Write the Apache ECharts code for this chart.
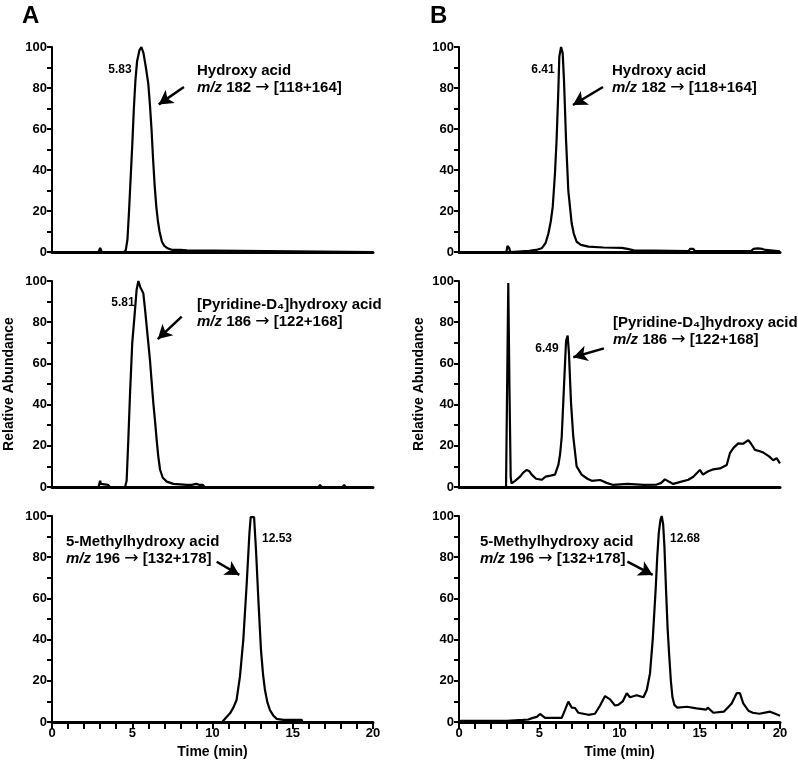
<!DOCTYPE html>
<html>
<head>
<meta charset="utf-8">
<script src="https://cdn.jsdelivr.net/npm/echarts@6/dist/echarts.min.js"></script>
<style>html,body{margin:0;padding:0;background:#fff;}#c{width:798px;height:773px;}</style>
</head>
<body>
<div id="c"></div>
<script>
// ---- data (time in min, relative abundance in %) ----
const tA1 = [0, 2.9, 3.0, 3.1, 4.5, 4.6, 4.7, 4.8, 4.9, 5.0, 5.1, 5.2, 5.3, 5.45, 5.57, 5.7, 5.85, 6.0, 6.1, 6.2, 6.3, 6.4, 6.5, 6.6, 6.7, 6.85, 7.0, 7.2, 7.5, 8.0, 8.4, 8.5, 20];
const vA1 = [0, 0, 2, 0, 0, 1, 6, 20, 36, 52, 70, 84, 93, 98.5, 100, 97, 90, 82, 72, 60, 45, 32, 22, 15, 10, 5, 3, 1.8, 1, 1, 0.8, 0, 0];

const tA2 = [0, 2.9, 3.0, 3.05, 3.1, 3.5, 3.6, 4.55, 4.65, 4.75, 4.86, 5.0, 5.13, 5.27, 5.38, 5.5, 5.59, 5.69, 5.8, 5.9, 6.0, 6.1, 6.2, 6.31, 6.42, 6.52, 6.62, 6.73, 6.9, 7.15, 7.56, 8.4, 8.5, 8.7, 9.0, 9.2, 9.4, 9.5, 16.6, 16.7, 16.8, 18.1, 18.2, 18.3, 20];
const vA2 = [0, 0, 3, 1.5, 1, 1, 0, 0, 3, 22, 45, 70, 82, 95.6, 100, 97, 95.6, 94, 86, 78, 70, 62, 52, 41, 32, 23, 15, 8.5, 4.5, 2.6, 1.5, 1, 1.5, 1, 1.5, 1, 1, 0, 0, 1, 0, 0, 1, 0, 0];

const tA3 = [0, 10.6, 10.67, 11.09, 11.3, 11.5, 11.71, 11.92, 12.13, 12.3, 12.38, 12.48, 12.59, 12.71, 12.86, 13.02, 13.15, 13.27, 13.42, 13.58, 13.8, 14.0, 14.4, 15.56, 15.6, 20];
const vA3 = [0, 0, 0.6, 4.2, 7, 10.7, 22, 40, 67, 91.6, 99.5, 100, 99.5, 83.5, 59, 35, 23, 15.5, 9.5, 5.8, 3, 1.5, 1, 1, 0, 0];

const tB1 = [0, 2.95, 3.02, 3.07, 3.12, 3.2, 4.36, 4.8, 5.15, 5.4, 5.57, 5.72, 5.84, 5.98, 6.08, 6.19, 6.25, 6.36, 6.46, 6.54, 6.67, 6.81, 7.02, 7.15, 7.33, 7.6, 8.06, 9.0, 10.14, 10.5, 10.9, 14.3, 14.4, 14.6, 14.7, 18.2, 18.35, 18.6, 18.9, 19.1, 19.2, 20];
const vB1 = [0, 0, 3, 3.2, 2, 0, 0.6, 1, 1.8, 4.5, 9, 15, 22, 38.4, 54.6, 79, 95.3, 100, 97, 84, 54.6, 30, 14, 9, 5, 3.5, 2.6, 2.2, 2, 1.5, 0.8, 0.5, 1.5, 1.5, 0.5, 0.5, 1.5, 1.8, 1.5, 1, 0.3, 0.3];

const tB2 = [0, 2.93, 3.0, 3.07, 3.14, 3.22, 3.27, 3.5, 3.8, 4.0, 4.22, 4.4, 4.53, 4.8, 5.15, 5.4, 5.7, 5.98, 6.19, 6.3, 6.4, 6.54, 6.67, 6.77, 6.85, 6.98, 7.12, 7.33, 7.64, 8.0, 8.27, 8.79, 9.2, 9.61, 10.5, 11.5, 12.32, 12.6, 12.83, 13.1, 13.35, 13.8, 14.29, 14.6, 15.01, 15.2, 15.5, 15.85, 16.26, 16.68, 16.88, 17.1, 17.4, 17.7, 18.03, 18.2, 18.44, 18.7, 18.96, 19.3, 19.58, 19.79, 20];
const vB2 = [0, 0, 50, 99, 50, 5, 1.8, 3, 5, 7, 8.3, 7.5, 6, 4, 3.5, 5, 5.5, 6, 10.7, 16, 24.4, 48.7, 71, 73.5, 65, 40.7, 24.4, 10, 6, 4, 3, 3.4, 2, 1, 1.5, 1, 1.2, 2, 3.7, 2.5, 1.5, 2.5, 3.5, 5, 8.3, 6, 7.5, 8.6, 9, 10.7, 16.4, 19, 21.2, 21, 22.8, 21, 18, 17.5, 16.7, 15, 13, 14, 11.5];

const tB3 = [0, 2.97, 3.0, 4.0, 4.32, 4.6, 4.85, 5.05, 5.36, 6.4, 6.6, 6.81, 7.02, 7.23, 7.43, 8.06, 8.47, 8.79, 9.1, 9.41, 9.72, 9.92, 10.2, 10.45, 10.65, 11.07, 11.49, 11.7, 11.9, 12.07, 12.25, 12.35, 12.45, 12.55, 12.63, 12.72, 12.8, 12.9, 13.0, 13.1, 13.2, 13.3, 13.42, 13.6, 14.2, 14.8, 15.4, 15.5, 15.85, 16.5, 16.99, 17.3, 17.5, 17.71, 18.03, 18.3, 18.72, 19.38, 19.7, 20];
const vB3 = [0.5, 0.5, 1, 1, 1.2, 2, 2.5, 3.9, 2, 2, 5.8, 9.9, 7, 6.8, 4.5, 3.5, 4, 8, 12.6, 11, 8, 8.3, 10, 14, 12, 13, 12, 15.5, 23.6, 40, 64, 80, 92, 98, 100, 96, 85, 64, 45, 32, 20, 12, 8.3, 7, 7.4, 6.6, 6, 7, 4.5, 5, 9, 14, 14, 9, 5.5, 4.5, 4, 5, 4, 3];

const peakLabels = ['5.83', '5.81', '12.53', '6.41', '6.49', '12.68'];
const compounds = ['Hydroxy acid', '[Pyridine-D₄]hydroxy acid', '5-Methylhydroxy acid'];
const precursors = [' 182 ', ' 186 ', ' 196 '];
const products = [' [118+164]', ' [122+168]', ' [132+178]'];
const yTicks = [0, 20, 40, 60, 80, 100];
const xTicks = [0, 5, 10, 15, 20];

// ---- layout ----
const lefts = [52, 459];
const tops = [47, 281, 516];
const heights = [205, 206, 206];
const W = 321;

const traces = [[tA1, vA1], [tA2, vA2], [tA3, vA3], [tB1, vB1], [tB2, vB2], [tB3, vB3]];
// arrows in data coordinates [from, to]
const arrows = [
  [[8.22, 80.5], [6.65, 72]],
  [[8.08, 82.7], [6.59, 71.8]],
  [[10.26, 77.8], [11.67, 71.4]],
  [[8.97, 80.5], [7.10, 71.7]],
  [[9.03, 67.3], [7.12, 63]],
  [[10.49, 77.8], [12.07, 71.4]]
];
const peakPos = [[120, 70], [123, 303], [277, 539], [543, 70], [547, 349], [685, 539]];
const textPos = [[197, 62], [197, 296], [66, 533], [612, 62], [613, 314], [480, 533]];

const grids = [], xAxes = [], yAxes = [], series = [], graphics = [];
const FONT = 'Liberation Sans';
for (let c = 0; c < 2; c++) {
  for (let r = 0; r < 3; r++) {
    const i = c * 3 + r;
    grids.push({ left: lefts[c], top: tops[r], width: W, height: heights[r] });
    const bottom = r === 2;
    xAxes.push({
      gridIndex: i, type: 'value', min: 0, max: 20, interval: 1,
      axisLine: { show: true, onZero: false, lineStyle: { color: '#000', width: 3 } },
      axisTick: { show: bottom, length: 7, lineStyle: { color: '#000', width: 2 } },
      axisLabel: {
        show: bottom, margin: 5, color: '#000', fontWeight: 'bold', fontFamily: FONT, fontSize: 13,
        formatter: v => xTicks.indexOf(v) >= 0 ? String(v) : ''
      },
      splitLine: { show: false },
      name: bottom ? 'Time (min)' : '', nameLocation: 'middle', nameGap: 23,
      nameTextStyle: { color: '#000', fontWeight: 'bold', fontFamily: FONT, fontSize: 14 }
    });
    yAxes.push({
      gridIndex: i, type: 'value', min: 0, max: 100, interval: 10,
      axisLine: { show: true, lineStyle: { color: '#000', width: 2 } },
      axisTick: { show: true, length: 5, lineStyle: { color: '#000', width: 2 } },
      axisLabel: {
        margin: 5, color: '#000', fontWeight: 'bold', fontFamily: FONT, fontSize: 13,
        formatter: v => yTicks.indexOf(v) >= 0 ? String(v) : ''
      },
      splitLine: { show: false },
      name: r === 1 ? 'Relative Abundance' : '', nameLocation: 'middle', nameGap: c === 0 ? 36 : 33, nameRotate: 90,
      nameTextStyle: { color: '#000', fontWeight: 'bold', fontFamily: FONT, fontSize: 14 }
    });
    const [ts, vs] = traces[i];
    series.push({
      type: 'line', xAxisIndex: i, yAxisIndex: i, showSymbol: false, smooth: false, silent: true,
      lineStyle: { color: '#000', width: 2.2 },
      data: ts.map((t, k) => [t, vs[k]]),
      markLine: {
        silent: true, symbol: ['none', 'arrow'], symbolSize: [12, 14], animation: false,
        lineStyle: { color: '#000', width: 2.5, type: 'solid' }, label: { show: false },
        data: [[{ coord: arrows[i][0] }, { coord: arrows[i][1] }]]
      }
    });
    graphics.push({
      type: 'text', x: peakPos[i][0], y: peakPos[i][1],
      style: { text: peakLabels[i], fill: '#000', font: 'bold 12px "Liberation Sans"', align: 'center', verticalAlign: 'middle' }
    });
    graphics.push({
      type: 'text', x: textPos[i][0], y: textPos[i][1],
      style: {
        text: '{b|' + compounds[r] + '}\n{i|m/z}{b|' + precursors[r] + '}{a|→}{b|' + products[r] + '}',
        align: 'left', verticalAlign: 'top', fill: '#000',
        rich: {
          b: { fontFamily: FONT, fontWeight: 'bold', fontSize: 15, lineHeight: 17, fill: '#000' },
          i: { fontFamily: FONT, fontWeight: 'bold', fontStyle: 'italic', fontSize: 15, lineHeight: 17, fill: '#000' },
          a: { fontFamily: 'DejaVu Sans', fontWeight: 'normal', fontSize: 17, lineHeight: 17, fill: '#000' }
        }
      }
    });
  }
}
graphics.push({ type: 'text', x: 22, y: 16, style: { text: 'A', fill: '#000', font: 'bold 24px "Liberation Sans"', verticalAlign: 'middle' } });
graphics.push({ type: 'text', x: 430, y: 16, style: { text: 'B', fill: '#000', font: 'bold 24px "Liberation Sans"', verticalAlign: 'middle' } });

const chart = echarts.init(document.getElementById('c'), null, { renderer: 'canvas' });
chart.setOption({
  animation: false,
  backgroundColor: '#fff',
  grid: grids, xAxis: xAxes, yAxis: yAxes, series: series, graphic: graphics
});
</script>
</body>
</html>
